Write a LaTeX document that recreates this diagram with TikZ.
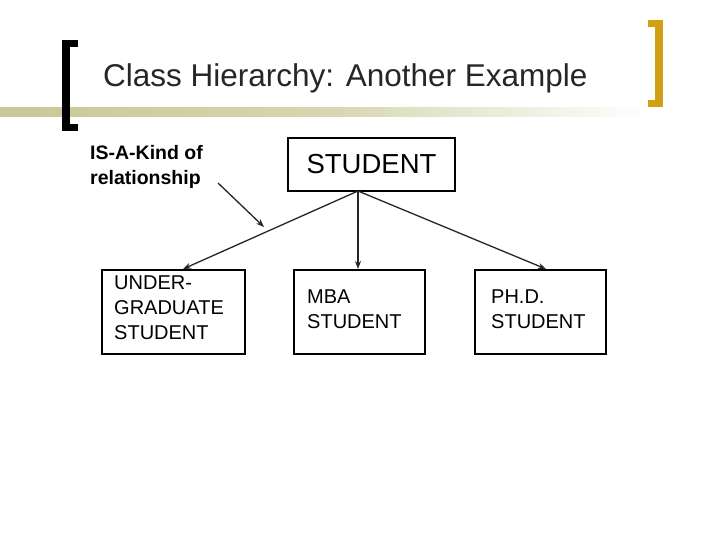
\documentclass[tikz,border=0pt]{standalone}
\usepackage{fontspec}
\setmainfont{Liberation Sans}
\usetikzlibrary{arrows.meta}
\definecolor{olive}{RGB}{200,200,150}
\definecolor{gold}{RGB}{210,160,20}
\begin{document}
\begin{tikzpicture}[x=1pt,y=-1pt,
  box/.style={draw,line width=1.5pt,inner sep=0pt},
  lbl/.style={font=\fontsize{20}{25}\selectfont,align=left,anchor=west,inner sep=0pt},
  arr/.style={draw=black!85,line width=1.3pt,-{Stealth[length=8pt,width=6pt]}}]
\useasboundingbox (0,0) rectangle (720,540);
\fill[white] (0,0) rectangle (720,540);
\shade[left color=olive, right color=white, middle color=olive!75] (0,108) rectangle (650,117);
% left bracket
\fill[black] (62,40) rectangle (70,131);
\fill[black] (62,40) rectangle (78,47);
\fill[black] (62,124) rectangle (78,131);
% right bracket
\fill[gold] (655,20) rectangle (663,107);
\fill[gold] (648,20) rectangle (663,27);
\fill[gold] (648,100) rectangle (663,107);
\node[anchor=west,inner sep=0pt,font=\fontsize{31.5}{34}\selectfont,text=black!85] (title) at (103,78) {Class Hierarchy: Another Example};
\node[lbl,font=\bfseries\fontsize{19.5}{25}\selectfont] (isa) at (90,167) {IS-A-Kind of\\relationship};
\coordinate (a1) at (218,183);
\coordinate (a2) at (264,227);
\draw[arr] (a1) -- (a2);
\node[box,minimum width=167pt,minimum height=53pt,font=\fontsize{27.5}{30}\selectfont] (stu) at (371.5,164.5) {STUDENT};
\node[box,minimum width=143pt,minimum height=84pt] (ug) at (173.5,312) {};
\node[lbl] at (114,308) {UNDER-\\GRADUATE\\STUDENT};
\node[box,minimum width=131pt,minimum height=84pt] (mba) at (359.5,312) {};
\node[lbl] at (307,309) {MBA\\STUDENT};
\node[box,minimum width=131pt,minimum height=84pt] (phd) at (540.5,312) {};
\node[lbl] at (491,309) {PH.D.\\STUDENT};
\coordinate (s) at (358,191);
\draw[arr] (s) -- (183,269);
\draw[arr] (s) -- (358,269);
\draw[arr] (s) -- (546,269);
\end{tikzpicture}
\end{document}
